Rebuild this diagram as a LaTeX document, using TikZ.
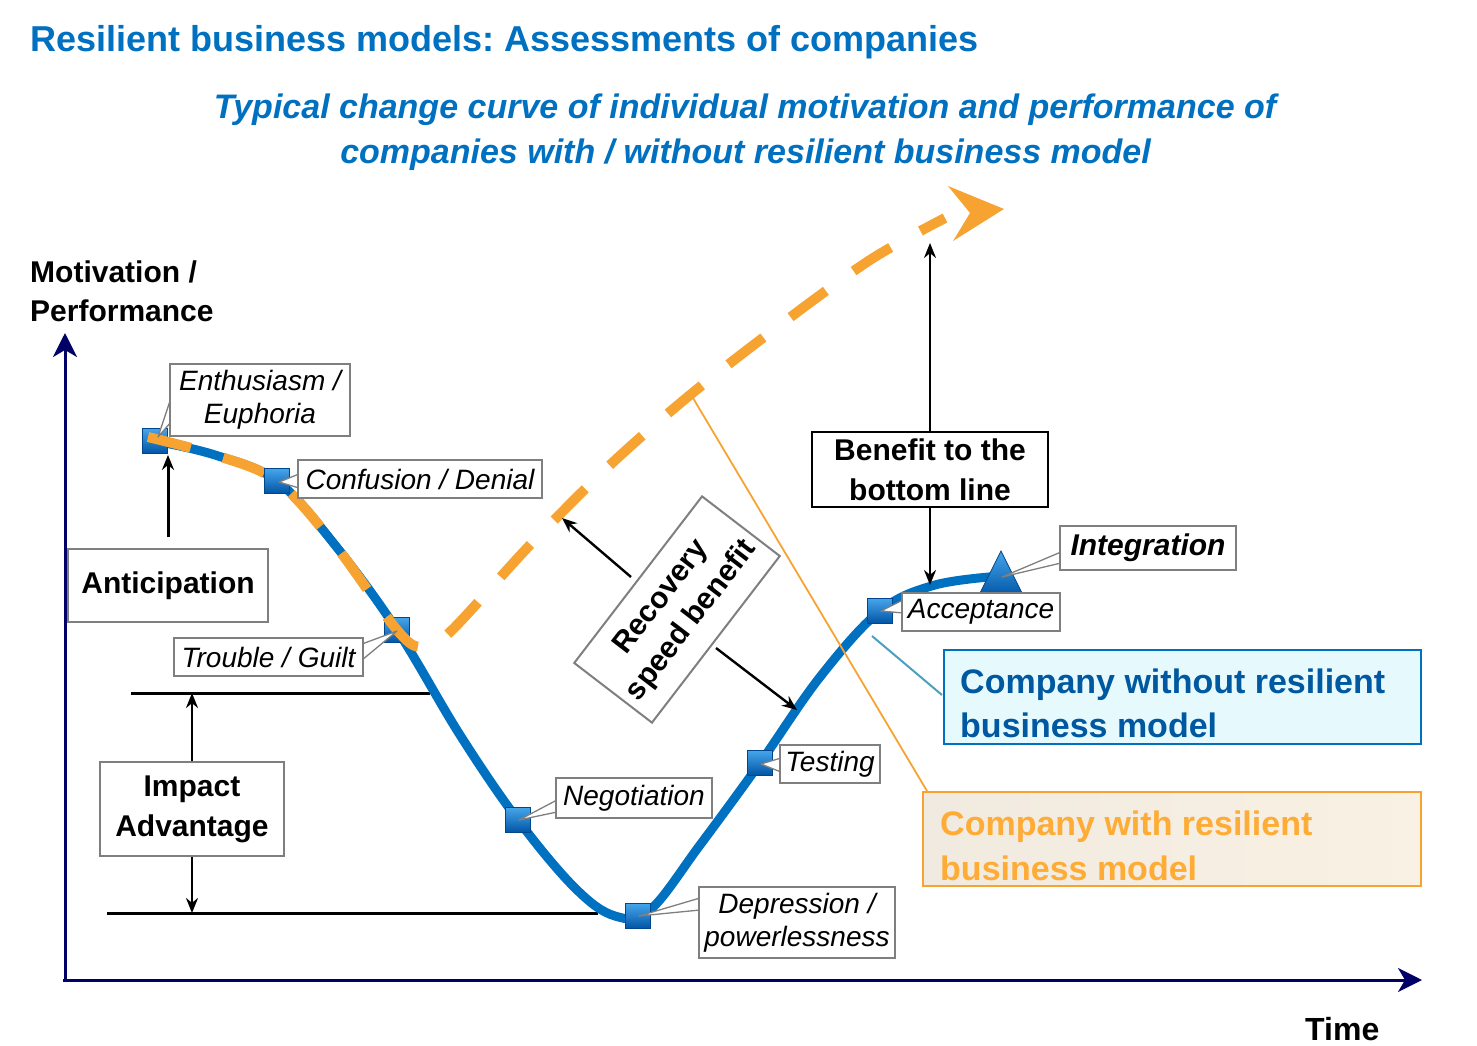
\documentclass[tikz,border=0pt]{standalone}
\usepackage{fontspec}
\setmainfont{Liberation Sans}
\usetikzlibrary{arrows.meta,calc}
\definecolor{tblue}{RGB}{0,112,192}
\definecolor{dblue}{RGB}{0,88,160}
\definecolor{bgray}{RGB}{127,127,127}
\definecolor{navy}{RGB}{0,0,102}
\definecolor{orng}{RGB}{247,163,50}
\definecolor{otext}{RGB}{255,172,55}
\definecolor{lcyan}{RGB}{230,250,254}
\definecolor{beigeA}{RGB}{241,234,224}
\definecolor{beigeB}{RGB}{249,241,227}
\definecolor{tealc}{RGB}{75,160,190}
\definecolor{mtop}{RGB}{70,165,235}
\definecolor{mbot}{RGB}{0,85,165}
\definecolor{mdraw}{RGB}{0,70,140}
\frenchspacing
\begin{document}
\begin{tikzpicture}[x=1pt,y=-1pt,
  lbl/.style={draw=bgray, line width=1.5pt, fill=white, inner sep=0pt, align=center,
    font=\fontsize{28}{33}\selectfont\itshape},
  bbox/.style={draw=bgray, line width=2pt, fill=white, inner sep=0pt, align=center,
    font=\fontsize{30}{40}\selectfont\bfseries},
  mk/.style={rectangle, minimum size=25pt, inner sep=0pt, top color=mtop, bottom color=mbot,
    draw=mdraw, line width=0.8pt},
  ptr/.style={fill=white, draw=bgray, line width=1.3pt, line join=round},
  arr/.style={draw=black, line width=2.4pt, -{Stealth[length=15pt,width=12pt]}},
  axisline/.style={draw=navy, line width=3pt, -{Stealth[length=24pt,width=24pt,inset=7pt]}},
  hline/.style={draw=black, line width=3pt},
  bluecurve/.style={draw=tblue, line width=9pt},
  orangecurve/.style={draw=orng, line width=10pt, dash pattern=on 44pt off 34pt},
  ttl/.style={anchor=base, inner sep=0pt, text=tblue},
  legtext/.style={anchor=base west, inner sep=0pt, font=\fontsize{34}{40}\selectfont\bfseries},
  axtext/.style={anchor=base west, inner sep=0pt, font=\fontsize{30}{36}\selectfont\bfseries}
]
\path[use as bounding box] (0,0) rectangle (1477,1046);

% titles
\node[ttl, anchor=base west, font=\fontsize{36}{40}\selectfont\bfseries] (title) at (30,52)
  {Resilient business models: Assessments of companies};
\node[ttl, font=\fontsize{34}{40}\selectfont\bfseries\itshape] (sub1) at (745,119)
  {Typical change curve of individual motivation and performance of};
\node[ttl, font=\fontsize{34}{40}\selectfont\bfseries\itshape] (sub2) at (745.5,163)
  {companies with / without resilient business model};

% axis labels
\node[axtext] (ylab1) at (30,282) {Motivation /};
\node[axtext] (ylab2) at (30,321) {Performance};
\node[axtext, font=\fontsize{32}{36}\selectfont\bfseries] (xlab) at (1305,1040) {Time};

% axes
\coordinate (yBot) at (65,982);
\coordinate (yTop) at (65,333);
\coordinate (xBeg) at (63,980);
\coordinate (xEnd) at (1422,980);
\draw[axisline] (yBot) -- (yTop);
\draw[axisline] (xBeg) -- (xEnd);

% horizontal reference lines
\coordinate (h1a) at (131,693);
\coordinate (h1b) at (430,693);
\coordinate (h2a) at (107,913);
\coordinate (h2b) at (598,913);
\draw[hline] (h1a) -- (h1b);
\draw[hline] (h2a) -- (h2b);

% blue curve
\draw[bluecurve] plot[smooth, tension=0.6] coordinates {(155,441) (215,455) (277,481) (335,545) (397,630) (460,735) (518,820) (575,888) (615,916) (650,910) (700,845) (760,763) (820,677) (880,611) (935,585) (1001,576)};

% markers under orange
\node[mk] (mEnth) at (155,441) {};
\node[mk] (mTrou) at (397,630) {};

% orange dashed curve
\draw[orangecurve] plot[smooth, tension=0.55] coordinates {(148,437) (215,455) (277,481) (335,545) (397,630) (422,647) (450,632) (530,545) (610,465) (690,395) (780,325) (870,260) (945,218)};
\fill[orng] (1004,209) -- (948,186) -- (970,213) -- (953,241) -- cycle;

% other markers
\node[mk] (mConf) at (277,481) {};
\node[mk] (mNego) at (518,820) {};
\node[mk] (mDepr) at (638,916) {};
\node[mk] (mTest) at (760,763) {};
\node[mk] (mAcce) at (880,611) {};
\shade[top color=mtop, bottom color=mbot, draw=mdraw, line width=0.8pt] (978,597) -- (1001,551) -- (1024,597) -- cycle;
\coordinate (mInte) at (1002,577);

% callout pointers
\draw[ptr] (171,398) -- (158,437) -- (171,422);
\draw[ptr] (299,474) -- (279,482) -- (299,488);
\draw[ptr] (362,644) -- (397,631) -- (362,660);
\draw[ptr] (557,800) -- (519,820) -- (557,812);
\draw[ptr] (700,898) -- (639,916) -- (700,910);
\draw[ptr] (781,758) -- (761,764) -- (781,772);
\draw[ptr] (903,600) -- (881,611) -- (903,613);
\draw[ptr] (1061,552) -- (mInte) -- (1061,563);

% callout boxes
\node[lbl, minimum width=180pt, minimum height=72pt, text depth=6pt] (enth) at (260,400) {Enthusiasm /\\Euphoria};
\node[lbl, minimum width=244pt, minimum height=38pt] (conf) at (420,479) {Confusion / Denial};
\node[lbl, minimum width=189pt, minimum height=38pt] (trou) at (268.5,657) {Trouble / Guilt};
\node[lbl, minimum width=156pt, minimum height=40pt] (nego) at (634,798) {Negotiation};
\node[lbl, minimum width=196pt, minimum height=71pt] (depr) at (797,922.5) {Depression /\\powerlessness};
\node[lbl, minimum width=100pt, minimum height=38pt] (test) at (830,764) {Testing};
\node[lbl, minimum width=158pt, minimum height=38pt] (acce) at (981,612) {Acceptance};
\node[lbl, minimum width=176pt, minimum height=44pt, font=\fontsize{30}{36}\selectfont\bfseries\itshape] (inte) at (1148,548) {Integration};

% bold boxes
\node[bbox, minimum width=200pt, minimum height=73pt] (antic) at (168,585.5) {Anticipation};
\node[bbox, minimum width=184pt, minimum height=94pt] (impa) at (192,809) {Impact\\Advantage};
\node[bbox, draw=black, line width=2.5pt, minimum width=236pt, minimum height=75pt] (bene) at (930,469.5) {Benefit to the\\bottom line};
\node[bbox, rotate=52.5, minimum width=210pt, minimum height=98pt, font=\fontsize{30}{38}\selectfont\bfseries] (reco) at (677,609.5) {Recovery\\speed benefit};

% arrows
\draw[arr, line width=3pt, shorten <=11pt, shorten >=1pt] (antic.north) -- (antic.north |- mEnth.south);
\draw[arr] (impa.north) -- (impa.north |- h1a);
\draw[arr] (impa.south) -- (impa.south |- h2a);
\coordinate (cTop) at (930,243);
\coordinate (cBot) at (930,585);
\draw[arr] (bene.north) -- (cTop);
\draw[arr] (bene.south) -- (cBot);
\coordinate (r1s) at (631,577);
\coordinate (r1e) at (562,518);
\coordinate (r2s) at (716,648);
\coordinate (r2e) at (797,710);
\draw[arr] (r1s) -- (r1e);
\draw[arr] (r2s) -- (r2e);

% legend boxes
\node[draw=tblue, line width=2pt, fill=lcyan, minimum width=477pt, minimum height=94pt, inner sep=0pt] (comp1) at (1182.5,697) {};
\node[legtext, text=dblue] (c1t1) at (960,693) {Company without resilient};
\node[legtext, text=dblue] (c1t2) at (960,737) {business model};
\node[draw=orng, line width=2pt, left color=beigeA, right color=beigeB, minimum width=498pt, minimum height=94pt, inner sep=0pt] (comp2) at (1172,839) {};
\node[legtext, text=otext] (c2t1) at (940,835) {Company with resilient};
\node[legtext, text=otext] (c2t2) at (940,880) {business model};
\coordinate (c1end) at (872,636);
\coordinate (c2end) at (690,393);
\draw[tealc, line width=2pt] ($(comp1.west)+(-1,-2)$) -- (c1end);
\draw[orng, line width=1.8pt] ($(comp2.north west)+(5,0)$) -- (c2end);
\end{tikzpicture}
\end{document}
